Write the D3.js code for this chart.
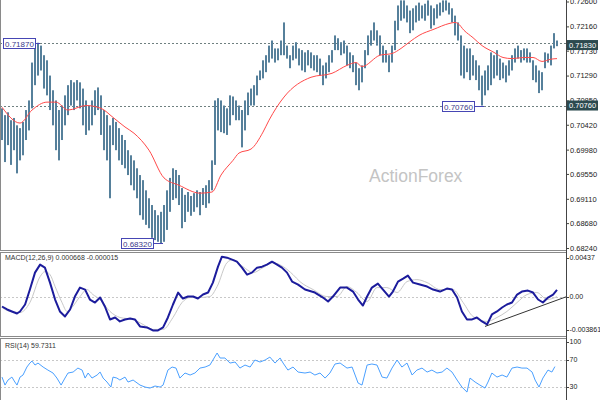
<!DOCTYPE html>
<html><head><meta charset="utf-8">
<script src="https://cdn.jsdelivr.net/npm/d3@7"></script>
<style>body{margin:0;background:#fff}svg{display:block}text{font-family:"Liberation Sans",Arial,sans-serif}</style>
</head><body><svg id="c" width="600" height="400"></svg>
<script>
// ---------- DATA ----------
const highs = [
.7071,.7059,.7064,.7050,.7054,.7041,.7036,.7047,.7068,.7085,
.7152,.7177,.7187,.7182,.7165,.7156,.7129,.7103,.7085,.7068,
.7076,.7094,.7112,.7121,.7117,.7121,.7117,.7106,.7085,.7076,
.7085,.7103,.7108,.7094,.7068,.7059,.7041,.7054,.7047,.7036,
.7024,.7015,.6997,.6988,.6979,.6965,.6953,.6944,.6926,.6912,
.6900,.6891,.6882,.6888,.6900,.6926,.6948,.6965,.6962,.6953,
.6930,.6918,.6923,.6916,.6921,.6926,.6923,.6930,.6935,.6944,
.6979,.7085,.7089,.7085,.7076,.7071,.7094,.7092,.7085,.7076,
.7068,.7085,.7099,.7106,.7112,.7129,.7138,.7156,.7165,.7182,
.7191,.7177,.7177,.7191,.7223,.7182,.7165,.7182,.7188,.7177,
.7174,.7170,.7174,.7170,.7165,.7165,.7159,.7147,.7152,.7165,
.7174,.7200,.7195,.7188,.7191,.7182,.7170,.7165,.7152,.7142,
.7147,.7174,.7200,.7209,.7223,.7209,.7200,.7182,.7174,.7165,
.7182,.7226,.7253,.7262,.7262,.7253,.7244,.7248,.7253,.7258,
.7253,.7256,.7262,.7253,.7248,.7255,.7258,.7262,.7262,.7258,
.7248,.7235,.7223,.7200,.7182,.7177,.7177,.7165,.7156,.7147,
.7129,.7138,.7147,.7170,.7165,.7174,.7159,.7152,.7147,.7156,
.7165,.7177,.7182,.7174,.7177,.7177,.7170,.7156,.7147,.7138,
.7135,.7170,.7168,.7182,.7204,.7191];
const lows = [
.7015,.6976,.7006,.6971,.6997,.6956,.6979,.6988,.7015,.7032,
.7071,.7112,.7129,.7138,.7106,.7094,.7068,.7041,.6997,.6979,
.7015,.7041,.7059,.7076,.7068,.7085,.7071,.7041,.7024,.7032,
.7041,.7059,.7068,.7024,.6997,.6979,.6912,.7006,.6997,.6979,
.6971,.6965,.6953,.6935,.6926,.6912,.6882,.6874,.6865,.6859,
.6842,.6838,.6835,.6832,.6835,.6856,.6888,.6909,.6912,.6900,
.6859,.6870,.6888,.6881,.6888,.6896,.6882,.6900,.6895,.6903,
.6926,.6971,.7032,.7029,.7027,.7024,.7041,.7059,.7050,.7050,
.7002,.7032,.7059,.7076,.7076,.7094,.7121,.7124,.7135,.7152,
.7159,.7152,.7156,.7165,.7165,.7159,.7142,.7156,.7159,.7147,
.7138,.7135,.7147,.7142,.7138,.7135,.7129,.7112,.7124,.7135,
.7152,.7174,.7174,.7165,.7168,.7147,.7142,.7135,.7112,.7103,
.7117,.7142,.7165,.7182,.7191,.7182,.7165,.7152,.7152,.7135,
.7152,.7174,.7209,.7226,.7230,.7223,.7204,.7209,.7223,.7226,
.7230,.7226,.7235,.7212,.7218,.7230,.7235,.7241,.7244,.7237,
.7223,.7200,.7191,.7129,.7124,.7135,.7121,.7129,.7121,.7103,
.7076,.7094,.7103,.7112,.7124,.7129,.7121,.7124,.7117,.7129,
.7138,.7152,.7159,.7152,.7156,.7152,.7152,.7121,.7117,.7098,
.7103,.7142,.7152,.7147,.7177,.7181];

const maIdx = [0,6,10,15,18,22,28,33,37,41,44,49,54,59,66,70,73,77,79,83,87,89,94,103,110,115,118,120,126,130,133,136,139,144,149,151,152,154,157,160,164,167,170,174,177,180,183,185];
const maVals = [.7073,.7045,.7068,.7082,.7082,.7068,.7076,.7071,.7055,.7038,.7027,.6997,.6948,.6935,.6921,.6923,.6953,.6979,.6992,.6999,.7029,.7050,.7091,.7126,.7133,.7147,.7152,.7145,.7165,.7168,.7177,.7189,.7200,.7211,.7221,.7223,.7221,.7209,.7196,.7182,.7170,.7161,.7159,.7161,.7161,.7154,.7158,.7159];

const macdIdx = [0,1.7,3.3,5,6,7.7,9.3,11,12.7,14.3,16,17.7,19.3,21,22.7,24.3,26,27.7,29.3,31,32.7,34.3,36,37.7,39.3,41,42.7,44.3,46,48.3,50.3,52,53.7,55.3,57,58.7,60.3,62,63.7,65.3,67,68.7,70.3,72,73.3,75,76.7,78.3,80,81.7,83.3,85,86.7,88.3,90,91.7,93.3,95,96.7,98.7,101,104.3,107,108.7,110.3,112.7,115,117,118.7,120.3,121.7,123.3,125.3,127,129,130.3,132,133.7,135.3,137,139.3,141.7,143.7,146,148.3,150,151.7,153.3,155,156.7,158.3,160,161.7,163.3,165,166.7,168.3,170,171.7,173.3,175.3,177,178.7,180.3,182,183.7,185];
const macdVals = [-0.0010,-0.0013,-0.0015,-0.0017,-0.0015,-0.0008,0.0007,0.0024,0.0032,0.0029,0.0014,-0.0003,-0.0015,-0.0020,-0.0013,0.0000,0.0009,0.0007,-0.0003,-0.0006,-0.0001,-0.0010,-0.0023,-0.0021,-0.0025,-0.0023,-0.0022,-0.0023,-0.0030,-0.0031,-0.0034,-0.0034,-0.0031,-0.0021,-0.0008,0.0004,-0.0002,0.0000,0.0000,-0.0002,0.0002,0.0004,0.0014,0.0030,0.0040,0.0039,0.0037,0.0035,0.0029,0.0022,0.0024,0.0029,0.0030,0.0032,0.0035,0.0032,0.0029,0.0024,0.0015,0.0012,0.0007,0.0004,-0.0001,-0.0005,0.0000,0.0009,0.0009,0.0005,-0.0003,-0.0009,0.0000,0.0009,0.0013,0.0007,0.0000,0.0005,0.0015,0.0018,0.0021,0.0014,0.0012,0.0010,0.0007,0.0005,0.0008,0.0007,-0.0001,-0.0015,-0.0023,-0.0023,-0.0021,-0.0025,-0.0028,-0.0018,-0.0015,-0.0011,-0.0008,-0.0006,0.0002,0.0005,0.0006,0.0004,-0.0003,-0.0006,-0.0001,0.0002,0.000668];

const sigIdx = [0,2.7,6,9.3,12.7,14.3,16,17.7,20,21.7,23.3,26,28.3,30.3,32.7,36,39.3,43.7,47,50.3,53.7,57,60,62.7,66,69.3,71.7,75,77,80.3,83.7,87,90.3,93.7,97,99.3,103.7,108.3,111.7,115,118.3,121.7,125,128.3,131.7,135,138.3,141.7,146,150.3,153.7,157,161.7,165,168.3,171.7,175,178.3,181.7,185];
const sigVals = [-0.0011,-0.0015,-0.0016,-0.0006,0.0020,0.0025,0.0022,0.0010,-0.0006,-0.0015,-0.0011,0.0000,0.0007,0.0002,-0.0003,-0.0015,-0.0021,-0.0023,-0.0028,-0.0033,-0.0033,-0.0021,-0.0006,-0.0001,-0.0001,0.0000,0.0010,0.0034,0.0037,0.0030,0.0024,0.0029,0.0034,0.0030,0.0022,0.0015,0.0007,0.0000,0.0000,0.0010,0.0004,-0.0005,0.0009,0.0009,0.0004,0.0015,0.0017,0.0014,0.0007,0.0007,-0.0006,-0.0020,-0.0025,-0.0021,-0.0015,-0.0006,0.0002,0.0004,-0.0003,-0.000015];

const trendIdx = [161, 188.3];
const trendVals = [-0.0030, 0.0000];

const rsiIdx = [0,1,2,3.3,4.3,5,6,7,8.3,9.3,10,11,12,13.7,15.3,17,18.3,19.7,21,22,23.7,25.3,26.7,27.7,28.7,30,31.7,32.7,33.7,35,36.3,37,38.3,39.3,41,42,43.7,46,47.7,49.3,51,52.7,53.7,55.3,56.7,58,59.3,61,62.7,64.3,66,67.7,69.3,70.3,71.7,72.7,74.3,76,77.7,79.3,81,82.7,84.3,86,87.7,89.3,91,92.7,93.7,95.3,97,98.7,101,102.7,104.3,106,107.7,109.3,111,112.7,115,116.7,117.7,118.7,120,121.7,123.3,125,126.7,128.3,130,131.7,133.3,135,136.7,138.3,140,141.7,143.3,145,146.7,148.3,150,151.7,153.3,155,156,157.7,159.3,161,162,163.3,165,166.7,168.3,170,171.7,173.3,175,176.7,177.7,179,180.3,182,183.3,184.3];
const rsiVals = [44.5,32.9,40.2,44.5,37.3,32.9,44.5,47.5,59.1,64.9,67.8,62.0,64.9,59.1,54.7,50.4,43.1,32.9,43.1,50.4,51.8,57.6,54.7,43.1,50.4,43.1,47.5,51.8,43.1,37.3,30.0,44.5,43.1,40.2,44.5,37.3,40.2,32.9,30.0,28.5,31.5,30.0,32.9,54.7,59.1,57.6,43.1,50.4,47.5,50.4,57.6,59.1,62.0,69.3,79.5,72.2,72.2,64.9,66.4,57.6,62.0,59.1,69.3,66.4,69.3,73.6,64.9,72.2,64.9,54.7,59.1,51.8,50.4,51.8,47.5,50.4,43.1,50.4,63.5,64.9,57.6,59.1,47.5,35.8,32.9,62.0,63.5,62.0,44.5,43.1,57.6,69.3,59.1,64.9,47.5,54.7,57.6,51.8,54.7,50.4,51.8,57.6,51.8,40.2,30.0,22.7,43.1,37.3,32.9,28.5,37.3,50.4,44.5,47.5,44.5,57.6,59.1,57.6,57.6,51.8,40.2,30.0,43.1,54.7,51.8,59.7311];

const priceTickLabels = ["0.72600","0.72160","0.71730","0.71290","0.70850","0.70420","0.69980","0.69550","0.69110","0.68680","0.68240"];
const macdTickLabels = ["0.00437","0.00","-0.003861"];
const rsiTickLabels = ["100","70","30"];
const levelValues = [0.7187, 0.7076];
const markerIdx = [12, 53, 160];
const markerVals = [0.7187, 0.6832, 0.7076];
const markerLabels = ["0.71870", "0.68320", "0.70760"];
const priceBoxVals = [0.7183, 0.7076];
const priceBoxLabels = ["0.71830", "0.70760"];
const macdTitle = "MACD(12,26,9) 0.000668 -0.000015";
const rsiTitle = "RSI(14) 59.7311";
const watermark = "ActionForex";

// ---------- CHART ----------
const svg = d3.select('#c');
const AX = 566;
const x = d3.scaleLinear().domain([0, 185]).range([2, 557]);
const yP = d3.scaleLinear().domain([0.6824, 0.7260]).range([248, 1.5]);
const yM = d3.scaleLinear().domain([-0.003861, 0.00437]).range([335, 253]);
const yR = d3.scaleLinear().domain([0, 100]).range([407.7, 338.9]);

const defs = svg.append('defs');
function clip(id, y0, y1) {
  defs.append('clipPath').attr('id', id).append('rect').attr('x', 1).attr('y', y0).attr('width', AX - 1).attr('height', y1 - y0);
}
clip('cm', 0, 250); clip('cd', 252, 336); clip('cr', 338, 400);

// watermark
svg.append('text').attr('x', 369).attr('y', 182).attr('font-size', 17.5).attr('fill', '#c4c4c4').text(watermark);

const gMain = svg.append('g').attr('clip-path', 'url(#cm)');
gMain.selectAll('line.lvl').data(levelValues).join('line')
  .attr('x1', 0).attr('x2', AX).attr('y1', d => Math.round(yP(d)) + 0.5).attr('y2', d => Math.round(yP(d)) + 0.5)
  .attr('stroke', '#6f8080').attr('stroke-dasharray', '2,2');
gMain.selectAll('rect.bar').data(highs).join('rect')
  .attr('x', (d, i) => x(i) - 1).attr('width', 2)
  .attr('y', (d, i) => yP(d)).attr('height', (d, i) => Math.max(1, yP(lows[i]) - yP(d)))
  .attr('fill', '#56809b');
gMain.append('path').datum(maIdx.map((d, i) => [d, maVals[i]]))
  .attr('d', d3.line().x(d => x(d[0])).y(d => yP(d[1])).curve(d3.curveMonotoneX))
  .attr('fill', 'none').attr('stroke', '#ff4a4a').attr('stroke-width', 1);

markerIdx.forEach((m, k) => {
  const bx = x(m), yy = Math.round(yP(markerVals[k])) + 0.5;
  const rx = Math.max(3.5, bx - 39.5);
  gMain.append('line').attr('x1', rx + 32).attr('x2', bx + 2).attr('y1', yy).attr('y2', yy).attr('stroke', '#4646b4');
  gMain.append('rect').attr('x', rx).attr('y', yy - 5).attr('width', 32).attr('height', 10)
    .attr('fill', '#fff').attr('stroke', '#4646b4');
  gMain.append('text').attr('x', rx + 1.5).attr('y', yy + 3).attr('font-size', 8).attr('fill', '#3a3a8a').text(markerLabels[k]);
});

// MACD panel
const gM = svg.append('g').attr('clip-path', 'url(#cd)');
gM.append('line').attr('x1', 0).attr('x2', AX).attr('y1', Math.round(yM(0)) + 0.5).attr('y2', Math.round(yM(0)) + 0.5)
  .attr('stroke', '#c8c8c8').attr('stroke-dasharray', '2,2');
gM.append('path').datum(sigIdx.map((d, i) => [d, sigVals[i]]))
  .attr('d', d3.line().x(d => x(d[0])).y(d => yM(d[1])).curve(d3.curveMonotoneX))
  .attr('fill', 'none').attr('stroke', '#c8c8c8').attr('stroke-width', 1);
gM.append('path').datum(macdIdx.map((d, i) => [d, macdVals[i]]))
  .attr('d', d3.line().x(d => x(d[0])).y(d => yM(d[1])))
  .attr('fill', 'none').attr('stroke', '#1c1c9c').attr('stroke-width', 2).attr('stroke-linejoin', 'round');
gM.append('line').attr('x1', x(trendIdx[0])).attr('x2', x(trendIdx[1])).attr('y1', yM(trendVals[0])).attr('y2', yM(trendVals[1]))
  .attr('stroke', '#333').attr('stroke-width', 1);
svg.append('text').attr('x', 5).attr('y', 260).attr('font-size', 7).attr('fill', '#333').text(macdTitle);

// RSI panel
const gR = svg.append('g').attr('clip-path', 'url(#cr)');
[70, 30].forEach(v => gR.append('line').attr('x1', 0).attr('x2', AX).attr('y1', Math.round(yR(v)) + 0.5).attr('y2', Math.round(yR(v)) + 0.5)
  .attr('stroke', '#c8c8c8').attr('stroke-dasharray', '2,2'));
gR.append('path').datum(rsiIdx.map((d, i) => [d, rsiVals[i]]))
  .attr('d', d3.line().x(d => x(d[0])).y(d => yR(d[1])))
  .attr('fill', 'none').attr('stroke', '#4aa0ff').attr('stroke-width', 1);
svg.append('text').attr('x', 5).attr('y', 348).attr('font-size', 7).attr('fill', '#333').text(rsiTitle);

// frames
const frame = svg.append('g').attr('fill', 'none').attr('stroke', '#8a8a8a');
frame.append('rect').attr('x', 0.5).attr('y', -1).attr('width', AX).attr('height', 251.5);
frame.append('rect').attr('x', 0.5).attr('y', 252.5).attr('width', AX).attr('height', 84);
frame.append('rect').attr('x', 0.5).attr('y', 338.5).attr('width', AX).attr('height', 70);
svg.append('line').attr('x1', AX + 0.5).attr('x2', AX + 0.5).attr('y1', 0).attr('y2', 400).attr('stroke', '#444');

// price axis
const ax = d3.axisRight(yP).tickValues(priceTickLabels.map(Number)).tickSize(3).tickPadding(1)
  .tickFormat((d, i) => priceTickLabels[i]);
const gAx = svg.append('g').attr('transform', `translate(${AX},0)`).call(ax);
gAx.select('.domain').remove();
gAx.selectAll('line').attr('stroke', '#444');
gAx.selectAll('text').attr('font-size', 7.5).attr('fill', '#222').attr('font-family', '"Liberation Sans",Arial,sans-serif');

function side(scale, vals, labels, lo, hi) {
  vals.forEach((v, i) => {
    const yy = Math.min(Math.max(scale(v), lo), hi);
    svg.append('line').attr('x1', AX).attr('x2', AX + 3).attr('y1', Math.round(yy) + 0.5).attr('y2', Math.round(yy) + 0.5).attr('stroke', '#444');
    svg.append('text').attr('x', AX + 3.5).attr('y', yy).attr('dy', '0.32em').attr('font-size', 7).attr('fill', '#222').text(labels[i]);
  });
}
side(yM, [0.00437, 0, -0.003861], macdTickLabels, 258, 330);
side(yR, [100, 70, 30], rsiTickLabels, 342, 396);

priceBoxVals.forEach((v, i) => {
  const yy = yP(v);
  svg.append('rect').attr('x', AX + 1).attr('y', yy - 5).attr('width', 31).attr('height', 10).attr('fill', '#2c4a4f');
  svg.append('text').attr('x', AX + 3).attr('y', yy).attr('dy', '0.34em').attr('font-size', 7.5).attr('fill', '#fff').text(priceBoxLabels[i]);
});
</script></body></html>
